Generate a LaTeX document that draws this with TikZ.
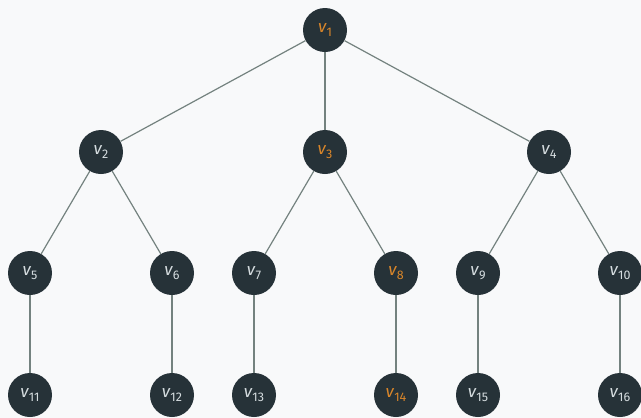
\documentclass[tikz,border=0pt]{standalone}
\usepackage{fontspec}
\setmainfont{Fira Sans}
\definecolor{bgcol}{HTML}{F8F9FA}
\definecolor{nodefill}{HTML}{263238}
\definecolor{edgecol}{HTML}{74827F}
\definecolor{labelcol}{HTML}{D5DCDF}
\definecolor{hlcol}{HTML}{D9862A}
\newcommand{\vlab}[1]{{\fontsize{17}{17}\selectfont\itshape v}\kern0.3pt\raisebox{-3.4pt}{\fontsize{12.5}{12.5}\selectfont #1}}
\tikzset{
  vert/.style={circle, fill=nodefill, minimum size=44pt, inner sep=0pt, text=labelcol},
  hot/.style={vert, text=hlcol},
  edge/.style={draw=edgecol, line width=1.2pt}
}
\begin{document}
\begin{tikzpicture}[x=1pt,y=-1pt]
\fill[bgcol] (0,0) rectangle (641,418);
\useasboundingbox (0,0) rectangle (641,418);
% level 1
\node[hot]  (v1)  at (325,30)  {\vlab{1}};
% level 2
\node[vert] (v2)  at (101,152) {\vlab{2}};
\node[hot]  (v3)  at (325,152) {\vlab{3}};
\node[vert] (v4)  at (549,152) {\vlab{4}};
% level 3
\node[vert] (v5)  at (30,273)  {\vlab{5}};
\node[vert] (v6)  at (172,273) {\vlab{6}};
\node[vert] (v7)  at (254,273) {\vlab{7}};
\node[hot]  (v8)  at (396,273) {\vlab{8}};
\node[vert] (v9)  at (478,273) {\vlab{9}};
\node[vert] (v10) at (620,273) {\vlab{10}};
% level 4
\node[vert] (v11) at (30,395)  {\vlab{11}};
\node[vert] (v12) at (172,395) {\vlab{12}};
\node[vert] (v13) at (254,395) {\vlab{13}};
\node[hot]  (v14) at (396,395) {\vlab{14}};
\node[vert] (v15) at (478,395) {\vlab{15}};
\node[vert] (v16) at (620,395) {\vlab{16}};
% edges
\draw[edge] (v1) -- (v2);
\draw[edge] (v1) -- (v3);
\draw[edge] (v1) -- (v4);
\draw[edge] (v2) -- (v5);
\draw[edge] (v2) -- (v6);
\draw[edge] (v3) -- (v7);
\draw[edge] (v3) -- (v8);
\draw[edge] (v4) -- (v9);
\draw[edge] (v4) -- (v10);
\draw[edge] (v5) -- (v11);
\draw[edge] (v6) -- (v12);
\draw[edge] (v7) -- (v13);
\draw[edge] (v8) -- (v14);
\draw[edge] (v9) -- (v15);
\draw[edge] (v10) -- (v16);
\end{tikzpicture}
\end{document}
